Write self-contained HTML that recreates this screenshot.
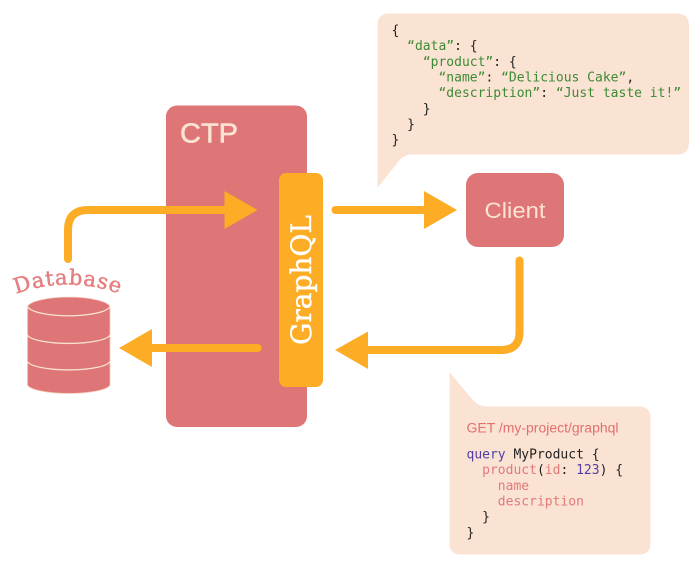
<!DOCTYPE html>
<html><head><meta charset="utf-8">
<style>
html,body{margin:0;padding:0;background:#fff;width:700px;height:565px;overflow:hidden}
svg{display:block}
.m{font-family:"DejaVu Sans Mono","Liberation Mono",monospace;font-size:13px;white-space:pre}
</style></head>
<body>
<svg width="700" height="565" viewBox="0 0 700 565" xmlns="http://www.w3.org/2000/svg">
<defs><path id="arc" d="M8 297 Q68 272 128 297"/></defs>
<!-- bubbles -->
<path d="M389 13.5H677Q689 13.5 689 25.5V142.5Q689 154.5 677 154.5H412Q404 154.5 398 162L377.5 188V25.5Q377.5 13.5 389 13.5Z" fill="#fbe3d3"/>
<path d="M449.5 372L472 399Q478 406.5 488 406.5H639Q650.5 406.5 650.5 418V543Q650.5 554.5 639 554.5H461Q449.5 554.5 449.5 543Z" fill="#fbe3d3"/>
<!-- CTP -->
<rect x="166" y="105.500" width="141" height="321.500" rx="11" fill="#de7576"/>
<text x="180" y="142.500" font-family="'Liberation Sans',sans-serif" font-size="28" fill="#fbe3d3" stroke="#fbe3d3" stroke-width="0.6" textLength="58" lengthAdjust="spacingAndGlyphs">CTP</text>
<!-- GraphQL -->
<rect x="279" y="173" width="44" height="214" rx="7" fill="#fdac25"/>
<text transform="translate(311 345) rotate(-90)" font-family="'DejaVu Serif','Liberation Serif',serif" font-size="28" fill="#fff" stroke="#fff" stroke-width="0.4" textLength="130" lengthAdjust="spacingAndGlyphs">GraphQL</text>
<!-- Client -->
<rect x="466" y="173" width="98" height="74" rx="12" fill="#de7576"/>
<text x="484.500" y="218" font-family="'Liberation Sans',sans-serif" font-size="22" fill="#fbe3d3" textLength="61" lengthAdjust="spacingAndGlyphs">Client</text>
<!-- arrows -->
<g fill="none" stroke="#fdac25" stroke-width="8" stroke-linecap="round">
<path d="M68 259V230Q68 210 88 210H228"/>
<path d="M335.500 210H428"/>
<path d="M519.500 260.500V332Q519.500 350 501 350H364"/>
<path d="M257.500 348H148"/>
</g>
<g fill="#fdac25">
<path d="M224.500 191L257.500 210L224.500 229Z"/>
<path d="M424 191L457 210L424 229Z"/>
<path d="M368 331.500L335 350L368 369Z"/>
<path d="M152 329L119 348L152 367Z"/>
</g>
<!-- Database -->
<text font-family="'DejaVu Serif','Liberation Serif',serif" font-size="21" letter-spacing="0.8" fill="#e57f80" stroke="#e57f80" stroke-width="0.5"><textPath href="#arc" startOffset="50%" text-anchor="middle">Database</textPath></text>
<path d="M27.500 306.500A41.500 10.500 0 0 1 110 306.500V385A41.500 9.500 0 0 1 27.500 385Z" fill="#de7576" stroke="#f6c9b8" stroke-width="0.8"/>
<g stroke="#fbe3d3" stroke-width="1.300" fill="none">
<path d="M27.500 306.500A41.500 10.500 0 0 0 110 306.500"/>
<path d="M27.500 335A41.500 9.500 0 0 0 110 335"/>
<path d="M27.500 361.500A41.500 9.500 0 0 0 110 361.500"/>
</g>
<!-- JSON -->
<g class="m" fill="#1f1f1f">
<text x="391.500" y="34.500">{</text>
<text x="391.500" y="50" xml:space="preserve">  <tspan fill="#3c8a35">“data”</tspan>: {</text>
<text x="391.500" y="66" xml:space="preserve">    <tspan fill="#3c8a35">“product”</tspan>: {</text>
<text x="391.500" y="81.500" xml:space="preserve">      <tspan fill="#3c8a35">“name”</tspan>: <tspan fill="#3c8a35">“Delicious Cake”</tspan>,</text>
<text x="391.500" y="97" xml:space="preserve">      <tspan fill="#3c8a35">“description”</tspan>: <tspan fill="#3c8a35">“Just taste it!”</tspan></text>
<text x="391.500" y="113" xml:space="preserve">    }</text>
<text x="391.500" y="128.500" xml:space="preserve">  }</text>
<text x="391.500" y="144">}</text>
</g>
<!-- Query -->
<text x="466.500" y="432.500" font-family="'Liberation Sans',sans-serif" font-size="13.500" fill="#e36f70" textLength="152" lengthAdjust="spacingAndGlyphs">GET /my-project/graphql</text>
<g class="m" fill="#1f1f1f">
<text x="466.500" y="458.500" xml:space="preserve"><tspan fill="#4f3fa3">query</tspan> MyProduct {</text>
<text x="466.500" y="474" xml:space="preserve">  <tspan fill="#e07a7b">product</tspan>(<tspan fill="#e07a7b">id</tspan>: <tspan fill="#4f3fa3">123</tspan>) {</text>
<text x="466.500" y="490" xml:space="preserve" fill="#e07a7b">    name</text>
<text x="466.500" y="505.500" xml:space="preserve" fill="#e07a7b">    description</text>
<text x="466.500" y="521" xml:space="preserve">  }</text>
<text x="466.500" y="537">}</text>
</g>
</svg>
</body></html>
